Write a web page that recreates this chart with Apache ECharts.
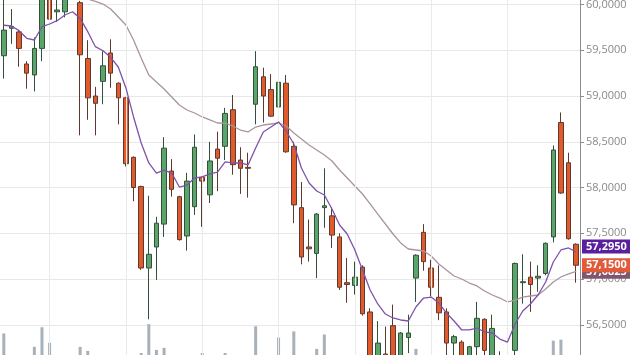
<!DOCTYPE html>
<html><head><meta charset="utf-8">
<script src="https://cdn.jsdelivr.net/npm/echarts@6/dist/echarts.min.js"></script>
<style>html,body{margin:0;padding:0;background:#fff}#c{width:630px;height:355px}</style>
</head><body><div id="c"></div>
<script>
const dates=['2024-01-05','2024-01-08','2024-01-09','2024-01-10','2024-01-11','2024-01-12','2024-01-15','2024-01-16','2024-01-17','2024-01-18','2024-01-19','2024-01-22','2024-01-23','2024-01-24','2024-01-25','2024-01-26','2024-01-29','2024-01-30','2024-01-31',
'2024-02-01','2024-02-02','2024-02-05','2024-02-06','2024-02-07','2024-02-08','2024-02-09','2024-02-12','2024-02-13','2024-02-14','2024-02-15','2024-02-16','2024-02-19','2024-02-20','2024-02-21','2024-02-22','2024-02-23','2024-02-26','2024-02-27','2024-02-28','2024-02-29',
'2024-03-01','2024-03-04','2024-03-05','2024-03-06','2024-03-07','2024-03-08','2024-03-11','2024-03-12','2024-03-13','2024-03-14','2024-03-15','2024-03-18','2024-03-19','2024-03-20','2024-03-21','2024-03-22','2024-03-25','2024-03-26','2024-03-27','2024-03-28','2024-03-29',
'2024-04-01','2024-04-02','2024-04-03','2024-04-04','2024-04-05','2024-04-08','2024-04-09','2024-04-10','2024-04-11','2024-04-12','2024-04-15','2024-04-16','2024-04-17','2024-04-18','2024-04-19'];
const gridDates=['2024-01-15','2024-01-29','2024-02-12','2024-02-26','2024-03-11','2024-03-25','2024-04-08'];
const opens=[59.44,59.74,59.70,59.35,59.23,59.52,60.15,59.92,59.92,60.14,
60.02,59.41,59.00,59.16,59.47,59.14,58.98,58.33,58.01,57.12,
57.35,57.60,58.18,57.90,57.47,57.79,58.11,57.92,58.42,58.45,
58.85,58.30,58.22,58.91,59.21,59.07,58.88,59.14,58.45,57.78,
57.35,57.28,57.78,57.69,57.46,56.96,56.93,57.13,56.64,56.12,
56.18,56.49,56.12,56.36,57.01,57.51,57.12,56.80,56.64,56.30,
56.31,56.10,56.26,56.56,56.12,56.05,56.14,56.22,56.96,57.02,
57.01,57.06,57.46,58.71,58.27,57.38];
const closes=[59.72,59.76,59.52,59.25,59.52,60.10,59.84,59.94,60.10,60.22,
59.45,58.98,58.92,59.33,59.25,58.98,58.26,58.00,57.12,57.27,
57.61,58.43,57.98,57.43,58.07,58.44,58.07,58.29,58.32,58.81,
58.25,58.21,58.21,59.32,59.00,58.78,59.15,58.39,57.81,57.24,
57.33,57.71,57.80,57.48,56.91,56.94,57.02,56.62,56.08,56.30,
56.10,56.08,56.41,56.41,57.26,57.19,56.91,56.63,56.30,56.37,
56.10,56.26,56.57,56.22,56.46,56.12,56.16,57.17,56.97,56.94,
57.03,57.39,58.41,57.94,57.44,57.15];
const lows=[59.19,59.57,59.32,59.08,59.05,59.38,59.56,59.81,59.86,60.08,
58.57,58.74,58.57,58.91,59.09,58.69,58.23,57.85,57.10,56.56,
56.99,57.46,57.90,57.42,57.31,57.70,57.57,57.83,57.96,58.30,
58.14,57.93,57.89,58.69,58.71,58.77,58.78,58.38,57.61,57.16,
57.19,57.01,57.56,57.34,56.88,56.74,56.83,56.60,56.02,55.98,
55.98,56.00,56.05,56.19,56.75,57.09,56.81,56.55,56.15,56.12,
56.00,56.00,56.10,56.10,56.05,55.98,56.00,56.15,56.73,56.64,
56.86,57.04,57.40,57.93,57.43,56.96];
const highs=[60.08,59.95,59.72,59.38,59.64,60.15,60.22,60.06,60.16,60.30,
60.04,59.61,59.10,59.49,59.62,59.15,58.99,58.34,58.02,57.91,
57.68,58.55,58.31,57.91,58.16,58.58,58.12,58.50,58.61,58.87,
59.01,58.44,58.38,59.49,59.31,59.24,59.62,59.23,58.50,58.06,
57.65,57.72,58.21,57.78,57.50,57.23,57.19,57.15,56.68,56.54,
56.48,56.72,56.42,56.61,57.27,57.60,57.21,57.15,56.68,56.39,
56.33,56.27,56.75,56.57,56.61,56.21,56.27,57.18,57.27,57.19,
57.15,57.40,58.46,58.82,58.38,57.39];
const maFast=[59.773,59.765,59.714,59.631,59.612,59.757,59.787,59.823,59.885,59.921,
59.849,59.703,59.539,59.495,59.423,59.317,59.088,58.771,58.486,58.268,
58.158,58.191,58.158,58.005,58.027,58.104,58.115,58.148,58.169,58.279,
58.268,58.268,58.246,58.432,58.607,58.661,58.716,58.617,58.475,58.213,
58.049,57.962,57.918,57.765,57.590,57.492,57.317,57.098,56.880,56.727,
56.617,56.574,56.552,56.541,56.694,56.792,56.803,56.738,56.628,56.541,
56.443,56.443,56.464,56.421,56.410,56.344,56.311,56.508,56.650,56.727,
56.825,56.967,57.186,57.317,57.339,57.295];
const maSlow=[60.40,60.40,60.39,60.37,60.35,60.32,60.29,60.25,60.21,60.16,
60.11,60.06,60.033,60.005,59.951,59.863,59.776,59.612,59.415,59.230,
59.153,59.077,58.989,58.902,58.847,58.814,58.771,58.738,58.705,58.705,
58.672,58.628,58.607,58.661,58.683,58.694,58.705,58.672,58.596,58.530,
58.464,58.410,58.355,58.290,58.191,58.104,58.016,57.929,57.820,57.710,
57.601,57.492,57.394,57.328,57.317,57.306,57.251,57.164,57.098,57.033,
57.000,56.956,56.924,56.869,56.825,56.792,56.749,56.770,56.803,56.814,
56.825,56.891,56.967,57.022,57.055,57.0825];
const volumes=[36,8,10,12,23,42,27,9,11,13,
23,19,12,9,10,13,11,14,17,45,
20,22,12,10,13,9,17,11,12,17,
10,8,12,43,13,11,32,14,38,12,
10,21,35,13,12,9,11,14,10,13,
12,11,9,13,21,12,10,13,11,9,
12,10,14,11,13,8,12,14,13,10,
12,14,29,30,13,11];

const fmt=v=>Number(v).toFixed(4).replace('.',',');
const last=a=>a[a.length-1];
const candleData=opens.map((o,i)=>[o,closes[i],lows[i],highs[i]]);
const tag=(val,bg,off)=>({yAxis:val,
  label:{show:true,position:'end',distance:2,offset:off||[0,0],opacity:1,formatter:()=>fmt(val),
    backgroundColor:bg,color:'#ffffff',fontSize:11,fontWeight:'bold',fontFamily:'Open Sans, Arial, sans-serif',padding:[2,4,1,4]},
  lineStyle:{color:'rgba(0,0,0,0)',width:1,opacity:1}});

const chart=echarts.init(document.getElementById('c'),null,{renderer:'canvas'});
chart.setOption({
  animation:false,
  backgroundColor:'#ffffff',
  grid:{left:0,right:50,top:-41.25,bottom:-15.5,containLabel:false,outerBoundsMode:'none'},
  xAxis:{type:'category',data:dates,boundaryGap:true,axisLine:{show:false},axisTick:{show:false},axisLabel:{show:false},splitLine:{show:false}},
  yAxis:[{type:'value',position:'right',min:56,max:60.5,interval:0.5,scale:true,
    axisLine:{show:true,lineStyle:{color:'#8c8c8c',width:1}},
    axisTick:{show:true,length:4,lineStyle:{color:'#8c8c8c'}},
    axisLabel:{color:'#8a8a8a',fontSize:11,fontFamily:'Open Sans, Arial, sans-serif',margin:6,formatter:v=>fmt(v)},
    splitLine:{show:true,lineStyle:{color:'#e8e8e8',width:1}}},
   {type:'value',min:0,max:400,show:false,splitLine:{show:false}}],
  series:[
    {type:'bar',name:'Volume',yAxisIndex:1,data:volumes,barWidth:3,z:1,
      itemStyle:{color:'#a7b1ba'},
      markLine:{silent:true,symbol:['none','none'],label:{show:false},
        lineStyle:{color:'#ebebeb',type:'solid',width:1},
        data:gridDates.map(d=>({xAxis:d}))}},
    {type:'candlestick',name:'Price',data:candleData,barWidth:5,z:3,
      itemStyle:{color:'#5aa66a',color0:'#e05a2c',borderColor:'#34503a',borderColor0:'#5e3a2e',borderWidth:1}},
    {type:'line',name:'MA slow',data:maSlow,symbol:'none',z:4,
      lineStyle:{color:'#a9949f',width:1.3}},
    {type:'line',name:'MA fast',data:maFast,symbol:'none',z:5,
      lineStyle:{color:'#7f52aa',width:1.3},
      markLine:{silent:true,symbol:['none','none'],animation:false,
        data:[tag(last(maSlow),'#80566f'),tag(last(closes),'#e15a3a'),tag(last(maFast),'#5a1f9c',[0,-5])]}}
  ]
});
</script>
</body></html>
